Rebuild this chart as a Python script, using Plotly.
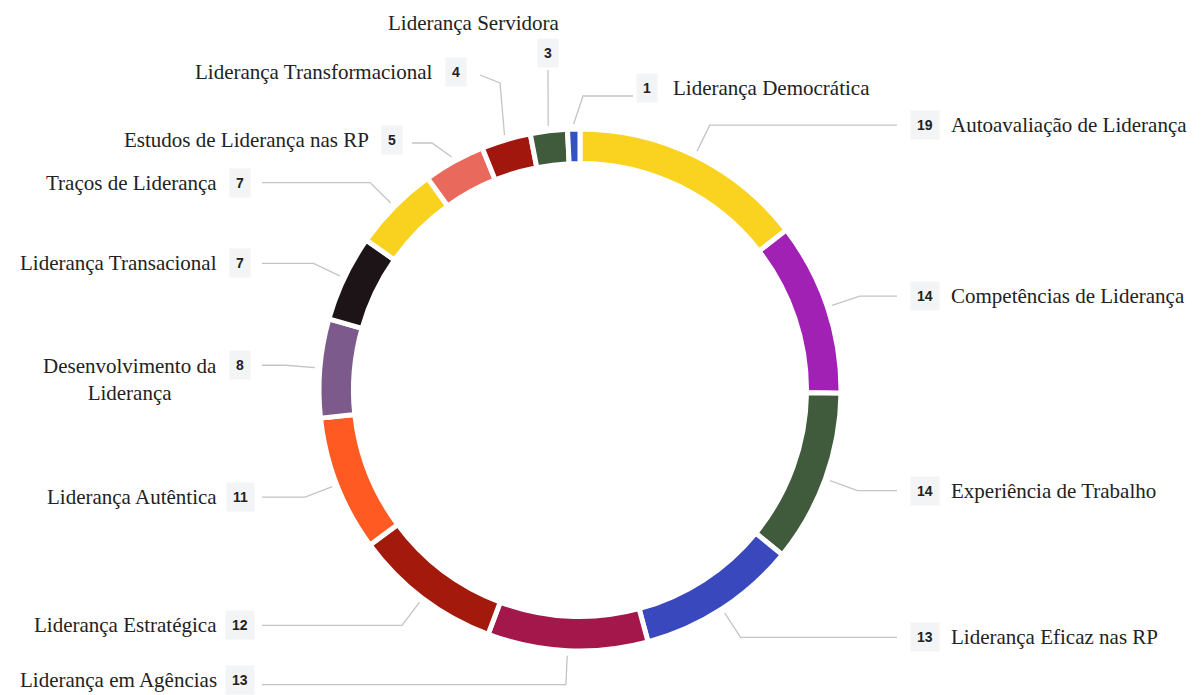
import math
import plotly.graph_objects as go

# ---------------- data ----------------
labels = [
    "Autoavaliação de Liderança",
    "Competências de Liderança",
    "Experiência de Trabalho",
    "Liderança Eficaz nas RP",
    "Liderança em Agências",
    "Liderança Estratégica",
    "Liderança Autêntica",
    "Desenvolvimento da<br>Liderança",
    "Liderança Transacional",
    "Traços de Liderança",
    "Estudos de Liderança nas RP",
    "Liderança Transformacional",
    "Liderança Servidora",
    "Liderança Democrática",
]
values = [19, 14, 14, 13, 13, 12, 11, 8, 7, 7, 5, 4, 3, 1]
colors = [
    "#FAD321", "#A121B5", "#3F5B3C", "#3A48BE", "#A3174A", "#A3190C",
    "#FF5A22", "#7D5A8C", "#1C1416", "#F8D21E", "#E96A5C", "#A1170E",
    "#3F5B3C", "#3552C3",
]

# ---------------- layout constants ----------------
W, H = 1203, 695
CX, CY, R = 580, 390, 261
HOLE = 0.868
LINE_COLOR = "#c4c4c4"
TEXT_COLOR = "#222222"
SERIF = "Liberation Serif, Times New Roman, serif"
SANS = "Liberation Sans, Arial, sans-serif"
LABEL_SIZE = 21
NUM_SIZE = 14
BOTTOM_LIMIT = H - 15  # keep text boxes inside the page

# special label placements for the crowded top cluster (pixels)
overrides = {
    "Estudos de Liderança nas RP": dict(elbow=(432, 143), box=(392, 140), side="left"),
    "Liderança Transformacional": dict(elbow=(500, 83), box=(456, 72), side="left", lineto=(480, 75)),
    "Liderança Servidora": dict(elbow=(548, 70), box=(548, 53), side="top", text_at=(474, 23)),
    "Liderança Democrática": dict(elbow=(583, 96), box=(647, 88), side="right", lineto=(633, 96)),
}


def px(x):
    return x / W


def py(y):
    return 1 - y / H


fig = go.Figure()
fig.add_trace(go.Pie(
    labels=labels,
    values=values,
    sort=False,
    direction="clockwise",
    rotation=0,
    hole=HOLE,
    marker=dict(colors=colors, line=dict(color="white", width=5)),
    textinfo="none",
    hoverinfo="label+value",
    showlegend=False,
    domain=dict(x=[px(CX - R), px(CX + R)], y=[py(CY + R), py(CY - R)]),
))

shapes = []
annotations = []
total = sum(values)
cum = 0
for lab, val in zip(labels, values):
    theta = (cum + val / 2) / total * 2 * math.pi
    cum += val
    sx = CX + (R + 5) * math.sin(theta)
    sy = CY - (R + 5) * math.cos(theta)
    ex = CX + (R + 34) * math.sin(theta)
    ey = CY - (R + 34) * math.cos(theta)
    side = "right" if math.sin(theta) > 0 else "left"
    o = overrides.get(lab)
    if o:
        ex, ey = o["elbow"]
        side = o["side"]
        bx, by = o["box"]
        if "lineto" in o:
            lx, ly = o["lineto"]
        elif side == "left":
            lx, ly = bx + 20, ey
        else:
            lx, ly = bx, by + 17
    else:
        by = min(ey, BOTTOM_LIMIT)
        if side == "right":
            bx = 925
            lx, ly = 897, ey
        else:
            bx = 240
            lx, ly = 262, ey

    path = f"M {px(sx)} {py(sy)} L {px(ex)} {py(ey)} L {px(lx)} {py(ly)}"
    shapes.append(dict(type="path", xref="paper", yref="paper", path=path,
                       line=dict(color=LINE_COLOR, width=1.3)))

    # value box
    annotations.append(dict(
        x=px(bx), y=py(by), xref="paper", yref="paper", xanchor="center", yanchor="middle",
        text=f"<b>{val}</b>", showarrow=False, bgcolor="#f3f4f6", borderpad=6,
        font=dict(family=SANS, size=NUM_SIZE, color=TEXT_COLOR),
    ))
    # label text
    if side == "right":
        annotations.append(dict(
            x=px(bx + 24), y=py(by), xref="paper", yref="paper", xanchor="left", yanchor="middle",
            text=lab, showarrow=False, align="left",
            font=dict(family=SERIF, size=LABEL_SIZE, color=TEXT_COLOR),
        ))
    elif side == "left":
        nlines = lab.count("<br>")
        annotations.append(dict(
            x=px(bx - 21), y=py(by), xref="paper", yref="paper", xanchor="right",
            yanchor="top" if nlines else "middle",
            yshift=13 if nlines else 0,
            text=lab, showarrow=False, align="center",
            font=dict(family=SERIF, size=LABEL_SIZE, color=TEXT_COLOR),
        ))
    else:
        tx, ty = o["text_at"]
        annotations.append(dict(
            x=px(tx), y=py(ty), xref="paper", yref="paper", xanchor="center", yanchor="middle",
            text=lab, showarrow=False,
            font=dict(family=SERIF, size=LABEL_SIZE, color=TEXT_COLOR),
        ))

fig.update_layout(
    width=W, height=H,
    margin=dict(l=0, r=0, t=0, b=0),
    paper_bgcolor="white", plot_bgcolor="white",
    shapes=shapes, annotations=annotations,
)

fig.write_html("out.html")
